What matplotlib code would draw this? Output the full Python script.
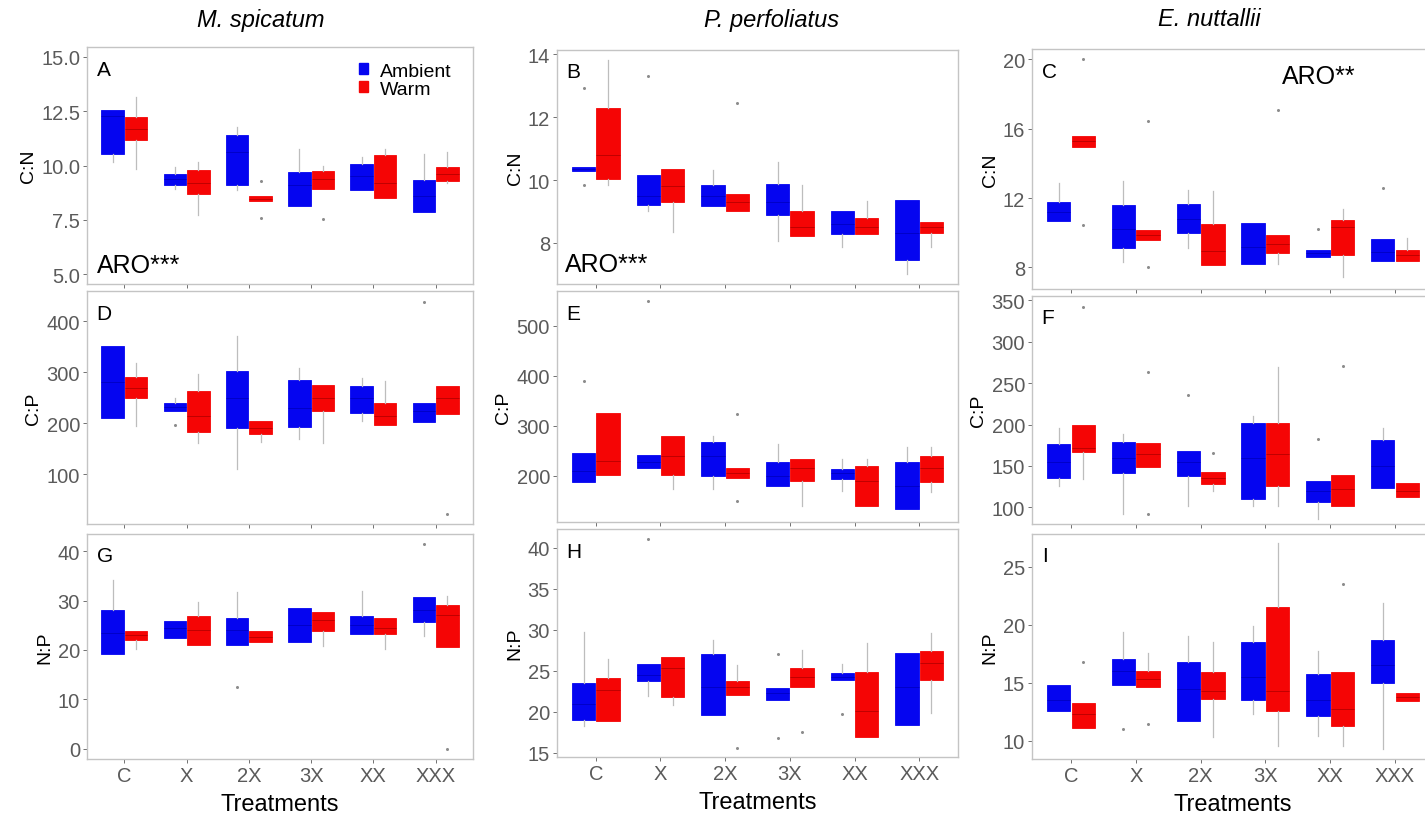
import matplotlib
matplotlib.use("Agg")
import matplotlib.pyplot as plt
from matplotlib.patches import Patch

plt.rcParams['font.family'] = ['Liberation Sans', 'DejaVu Sans']

blue = '#0505F0'
red = '#F50505'
dark_blue = '#0000C8'
dark_red = '#C00000'
whisker_grey = '#BDBDBD'
frame_grey = '#C4C4C4'
tick_grey = '#5A5A5A'

treatments = ['C', 'X', '2X', '3X', 'XX', 'XXX']
species = ['M. spicatum', 'P. perfoliatus', 'E. nuttallii']

# each box: (lower whisker, q1, median, q3, upper whisker)
# outliers: (treatment index, value)

# --- M. spicatum ---
cn_ms_amb = [(10.15, 10.51, 12.3, 12.58, 12.58), (8.92, 9.12, 9.4, 9.62, 9.92),
             (8.85, 9.08, 10.6, 11.42, 11.77), (8.12, 8.12, 9.1, 9.69, 10.77),
             (8.85, 8.85, 9.5, 10.09, 10.4), (7.85, 7.85, 8.6, 9.31, 10.54)]
cn_ms_warm = [(9.85, 11.18, 11.7, 12.23, 13.15), (7.7, 8.69, 9.2, 9.8, 10.15),
              (8.35, 8.35, 8.45, 8.6, 8.6), (8.92, 8.92, 9.4, 9.74, 10.0),
              (8.51, 8.51, 9.2, 10.49, 10.77), (9.2, 9.28, 9.6, 9.95, 10.6)]
cn_ms_amb_out = []
cn_ms_warm_out = [(2, 9.3), (2, 7.6), (3, 7.54)]

cp_ms_amb = [(211, 211, 280, 351, 351), (224, 224, 232, 240, 250),
             (110, 190, 250, 302, 371), (169, 192, 230, 284, 309),
             (205, 220, 250, 273, 289), (203, 203, 225, 240, 240)]
cp_ms_warm = [(195, 249, 270, 290, 319), (162, 184, 215, 263, 296),
              (164, 179, 190, 205, 205), (162, 225, 250, 276, 276),
              (197, 197, 215, 240, 283), (219, 219, 250, 273, 273)]
cp_ms_amb_out = [(1, 197), (5, 437)]
cp_ms_warm_out = [(5, 22)]

np_ms_amb = [(19.2, 19.2, 23.5, 28.0, 34.1), (22.4, 22.4, 24.5, 25.8, 25.8),
             (21.1, 21.1, 24.0, 26.4, 31.7), (21.7, 21.7, 25.0, 28.6, 28.6),
             (23.2, 23.2, 25.0, 26.8, 32.0), (22.9, 25.7, 28.0, 30.7, 30.7)]
np_ms_warm = [(20.2, 22.1, 23.0, 23.9, 23.9), (21.0, 21.0, 24.0, 26.9, 29.7),
              (21.6, 21.6, 22.6, 23.9, 23.9), (20.9, 23.9, 26.0, 27.6, 27.6),
              (20.2, 23.2, 24.5, 26.4, 26.4), (20.5, 20.5, 27.0, 29.1, 31.0)]
np_ms_amb_out = [(2, 12.4), (5, 41.5)]
np_ms_warm_out = [(5, 0.0)]

# --- P. perfoliatus ---
cn_pp_amb = [(10.28, 10.28, 10.35, 10.41, 10.41), (9.03, 9.22, 9.5, 10.17, 10.17),
             (9.17, 9.17, 9.5, 9.83, 10.31), (8.07, 8.9, 9.3, 9.86, 10.57),
             (7.86, 8.27, 8.6, 9.0, 9.0), (7.01, 7.47, 8.3, 9.38, 9.38)]
cn_pp_warm = [(9.83, 10.04, 10.79, 12.28, 13.82), (8.34, 9.3, 9.8, 10.34, 10.34),
              (9.01, 9.01, 9.3, 9.56, 9.56), (8.21, 8.21, 8.5, 9.0, 9.83),
              (8.27, 8.27, 8.5, 8.8, 9.33), (7.86, 8.32, 8.5, 8.66, 8.66)]
cn_pp_amb_out = [(0, 12.94), (0, 9.83), (1, 13.32)]
cn_pp_warm_out = [(2, 12.44)]

cp_pp_amb = [(188, 188, 210, 245, 245), (215, 215, 228, 241, 241),
             (173, 200, 240, 267, 280), (179, 179, 200, 227, 263),
             (170, 193, 205, 213, 233), (133, 133, 180, 227, 257)]
cp_pp_warm = [(202, 202, 230, 325, 325), (173, 202, 240, 279, 279),
              (195, 195, 205, 215, 215), (140, 189, 215, 233, 233),
              (139, 139, 190, 219, 233), (167, 188, 215, 239, 257)]
cp_pp_amb_out = [(0, 389), (1, 550)]
cp_pp_warm_out = [(2, 323), (2, 150)]

np_pp_amb = [(18.3, 19.07, 21.0, 23.5, 29.8), (21.9, 23.8, 24.5, 25.9, 25.9),
             (19.6, 19.6, 23.0, 27.1, 28.8), (21.5, 21.5, 22.3, 22.9, 22.9),
             (23.9, 23.9, 24.3, 24.7, 25.9), (18.4, 18.4, 23.0, 27.2, 27.2)]
np_pp_warm = [(18.9, 18.9, 22.7, 24.1, 26.4), (20.9, 21.8, 25.3, 26.7, 26.7),
              (22.1, 22.1, 23.0, 23.8, 25.7), (23.0, 23.0, 24.3, 25.3, 27.6),
              (16.9, 16.9, 20.1, 24.9, 28.4), (19.9, 23.9, 26.0, 27.4, 29.6)]
np_pp_amb_out = [(1, 41.1), (3, 27.0), (3, 16.8), (4, 19.7)]
np_pp_warm_out = [(2, 15.6), (3, 17.5)]

# --- E. nuttallii ---
cn_en_amb = [(10.67, 10.67, 11.2, 11.76, 12.87), (8.28, 9.1, 10.2, 11.59, 13.0),
             (9.14, 9.96, 10.8, 11.63, 12.49), (8.18, 8.18, 9.2, 10.54, 10.54),
             (8.6, 8.6, 8.8, 8.99, 8.99), (8.34, 8.34, 8.9, 9.62, 9.62)]
cn_en_warm = [(14.93, 14.93, 15.3, 15.58, 15.58), (9.56, 9.56, 9.85, 10.15, 10.15),
              (8.13, 8.13, 8.95, 10.48, 12.4), (8.18, 8.85, 9.33, 9.85, 9.85),
              (7.42, 8.7, 10.3, 10.71, 11.34), (8.34, 8.34, 8.7, 9.0, 9.71)]
cn_en_amb_out = [(4, 10.2), (5, 12.58)]
cn_en_warm_out = [(0, 20.0), (0, 10.44), (1, 16.44), (1, 8.0), (3, 17.07)]

cp_en_amb = [(126, 135, 155, 177, 196), (92, 141, 160, 179, 188),
             (102, 138, 155, 168, 168), (102, 110, 160, 202, 210),
             (86, 106, 120, 132, 132), (124, 124, 150, 181, 196)]
cp_en_warm = [(134, 167, 172, 200, 200), (149, 149, 165, 178, 178),
              (120, 128, 135, 143, 143), (102, 126, 164, 202, 269),
              (102, 102, 122, 139, 139), (112, 112, 120, 130, 130)]
cp_en_amb_out = [(2, 236), (4, 182)]
cp_en_warm_out = [(0, 342), (1, 263), (1, 92), (2, 166), (4, 270)]

np_en_amb = [(12.6, 12.6, 13.5, 14.83, 14.83), (14.83, 14.83, 16.0, 17.03, 19.33),
             (11.73, 11.73, 14.5, 16.8, 19.04), (12.3, 13.51, 15.5, 18.52, 19.9),
             (10.44, 12.16, 13.5, 15.74, 17.75), (9.3, 14.94, 16.5, 18.7, 21.9)]
np_en_warm = [(11.07, 11.07, 12.3, 13.25, 13.25), (14.6, 14.6, 15.3, 16.03, 17.6),
              (10.3, 13.6, 14.3, 15.89, 18.47), (9.58, 12.6, 14.3, 21.53, 27.06),
              (9.58, 11.25, 12.7, 15.89, 15.89), (13.45, 13.45, 13.8, 14.11, 14.11)]
np_en_amb_out = [(1, 11.02)]
np_en_warm_out = [(0, 16.75), (1, 11.45), (4, 23.48)]


def make_stats(boxes, outliers):
    stats = []
    for i, (lo, q1, med, q3, hi) in enumerate(boxes):
        fl = [v for (k, v) in outliers if k == i]
        stats.append(dict(whislo=lo, q1=q1, med=med, q3=q3, whishi=hi, fliers=fl))
    return stats


def draw_group(ax, boxes, outliers, pos, color, mcolor):
    ax.bxp(make_stats(boxes, outliers), positions=pos, widths=0.36,
           patch_artist=True, showcaps=False, manage_ticks=False,
           boxprops=dict(facecolor=color, edgecolor=color, linewidth=0.6),
           whiskerprops=dict(color=whisker_grey, linewidth=0.9),
           medianprops=dict(color=mcolor, linewidth=0.7),
           flierprops=dict(marker='o', markersize=2.2, markerfacecolor='#8C8C8C',
                           markeredgecolor='none'))


W, H = 1425, 820
fig = plt.figure(figsize=(W / 100, H / 100), dpi=100)


def add_ax(l, r, t, b):
    return fig.add_axes([l / W, 1 - b / H, (r - l) / W, (b - t) / H])


cols = [(87, 473), (557, 958), (1032, 1434)]
rows = [[(48, 285), (292, 525), (535, 760)],
        [(51, 285), (292, 523), (530, 758)],
        [(50, 290), (297, 525), (535, 760)]]

panels = [
    [(cn_ms_amb, cn_ms_warm, cn_ms_amb_out, cn_ms_warm_out, 'C:N', (4.54, 15.46), [5, 7.5, 10, 12.5, 15], 'A'),
     (cp_ms_amb, cp_ms_warm, cp_ms_amb_out, cp_ms_warm_out, 'C:P', (3, 459), [100, 200, 300, 400], 'D'),
     (np_ms_amb, np_ms_warm, np_ms_amb_out, np_ms_warm_out, 'N:P', (-2.1, 43.5), [0, 10, 20, 30, 40], 'G')],
    [(cn_pp_amb, cn_pp_warm, cn_pp_amb_out, cn_pp_warm_out, 'C:N', (6.69, 14.14), [8, 10, 12, 14], 'B'),
     (cp_pp_amb, cp_pp_warm, cp_pp_amb_out, cp_pp_warm_out, 'C:P', (107, 570), [200, 300, 400, 500], 'E'),
     (np_pp_amb, np_pp_warm, np_pp_amb_out, np_pp_warm_out, 'N:P', (14.5, 42.3), [15, 20, 25, 30, 35, 40], 'H')],
    [(cn_en_amb, cn_en_warm, cn_en_amb_out, cn_en_warm_out, 'C:N', (6.75, 20.6), [8, 12, 16, 20], 'C'),
     (cp_en_amb, cp_en_warm, cp_en_amb_out, cp_en_warm_out, 'C:P', (80, 355), [100, 150, 200, 250, 300, 350], 'F'),
     (np_en_amb, np_en_warm, np_en_amb_out, np_en_warm_out, 'N:P', (8.44, 27.8), [10, 15, 20, 25], 'I')],
]

x = list(range(1, len(treatments) + 1))
axes = {}
for c in range(3):
    l, r = cols[c]
    for rr in range(3):
        t, b = rows[c][rr]
        amb, warm, amb_out, warm_out, ylab, ylim, yticks, letter = panels[c][rr]
        ax = add_ax(l, r, t, b)
        draw_group(ax, amb, amb_out, [p - 0.19 for p in x], blue, dark_blue)
        draw_group(ax, warm, warm_out, [p + 0.19 for p in x], red, dark_red)
        ax.set_xlim(0.4, 6.6)
        ax.set_ylim(*ylim)
        ax.set_yticks(yticks)
        if ylab == 'C:N' and c == 0:
            ax.set_yticklabels(['%.1f' % v for v in yticks])
        ax.set_xticks(x)
        if rr == 2:
            ax.set_xticklabels(treatments)
            ax.set_xlabel('Treatments', fontsize=17, labelpad=6)
        else:
            ax.set_xticklabels([])
        ax.set_ylabel(ylab, fontsize=14, labelpad=3)
        ax.tick_params(colors=tick_grey, labelsize=14.5, length=3, width=0.6,
                       labelcolor=tick_grey, pad=2)
        for s in ax.spines.values():
            s.set_color(frame_grey)
            s.set_linewidth(1.0)
        ax.annotate(letter, xy=(0, 1), xycoords='axes fraction', xytext=(7, -9),
                    textcoords='offset points', ha='left', va='top', fontsize=15)
        axes[letter] = ax

axes['A'].annotate('ARO***', xy=(0, 0), xycoords='axes fraction', xytext=(7, 5),
                   textcoords='offset points', ha='left', va='bottom', fontsize=18)
axes['B'].annotate('ARO***', xy=(0, 0), xycoords='axes fraction', xytext=(6, 6),
                   textcoords='offset points', ha='left', va='bottom', fontsize=18)
axes['C'].annotate('ARO**', xy=(0, 1), xycoords='axes fraction', xytext=(180, -11),
                   textcoords='offset points', ha='left', va='top', fontsize=18)

handles = [Patch(facecolor=blue, edgecolor=blue, label='Ambient'),
           Patch(facecolor=red, edgecolor=red, label='Warm')]
axes['A'].legend(handles=handles, loc='upper left', bbox_to_anchor=(0.68, 0.975),
                 frameon=False, fontsize=14, borderpad=0, handlelength=0.45,
                 handleheight=0.45, handletextpad=0.6, labelspacing=0.05)

title_x = [261, 772, 1209]
for tx, name in zip(title_x, species):
    fig.text(tx / W, 1 - 20 / H, name, ha='center', va='center', fontsize=17,
             style='italic')

fig.savefig('out.png', dpi=100)
